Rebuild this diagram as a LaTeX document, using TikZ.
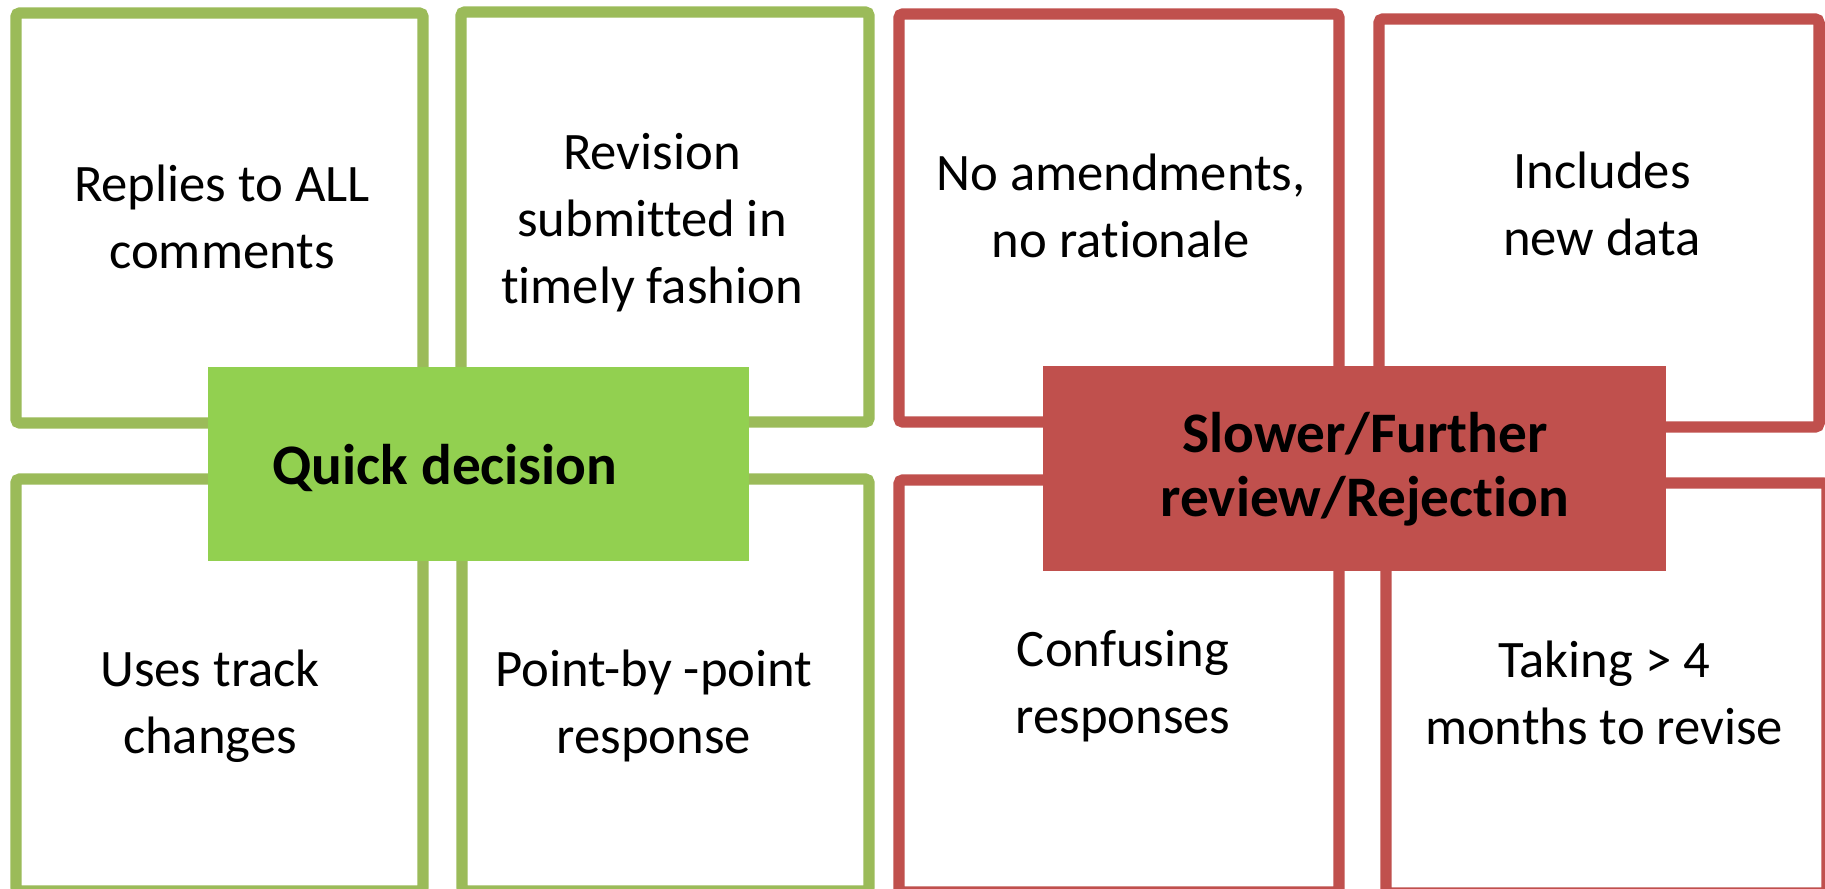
\documentclass[tikz,border=0pt]{standalone}
\usepackage{fontspec}
\setmainfont[Ligatures=NoCommon]{Carlito}
\usepackage{tikz}

\begin{document}
\begin{tikzpicture}[x=0.75pt,y=0.75pt,yscale=-1,xscale=1,
	goodbox/.style={draw={rgb, 255:red, 155; green, 187; blue, 89}, line width=8.6, fill=white, rounded corners=3},
	badbox/.style={draw={rgb, 255:red, 192; green, 80; blue, 77}, line width=8.6, fill=white, rounded corners=3},
	goodlabel/.style={fill={rgb, 255:red, 146; green, 208; blue, 80}},
	badlabel/.style={fill={rgb, 255:red, 192; green, 80; blue, 77}},
	boxtext/.style={anchor=base, align=center, inner sep=0pt, font=\fontsize{39.5}{50}\selectfont},
	labeltext/.style={boxtext, font=\fontsize{43}{48}\selectfont\bfseries}]
			\useasboundingbox (0,0) rectangle (1825,889);
			
			%Shape: Rectangle [green, top row]
			\draw [goodbox] (16,13) rectangle (423,423) ;
			\draw [goodbox] (461,12) rectangle (869,422) ;
			%Shape: Rectangle [red, top row]
			\draw [badbox] (899,14) rectangle (1339,422) ;
			\draw [badbox] (1379,19) rectangle (1819,427) ;
			%Shape: Rectangle [green, bottom row]
			\draw [goodbox] (16,479) rectangle (423,891) ;
			\draw [goodbox] (462,479) rectangle (869,891) ;
			%Shape: Rectangle [red, bottom row]
			\draw [badbox] (899,480) rectangle (1339,892) ;
			\draw [badbox] (1386,483) rectangle (1827,893) ;
			
			%Shape: Rectangle [labels]
			\fill [goodlabel] (208,367) rectangle (749,561) ;
			\fill [badlabel] (1043,366) rectangle (1666,571) ;
			
			% Text Node (base = last line)
			\node [boxtext] (replies) at (222,268) {Replies to ALL\\comments};
			% Text Node
			\node [boxtext] (timely) at (652,303) {Revision\\submitted in\\timely fashion};
			% Text Node
			\node [boxtext] (noamend) at (1121,257) {No amendments,\\no rationale};
			% Text Node
			\node [boxtext] (newdata) at (1602,255) {Includes\\new data};
			% Text Node
			\node [boxtext] (track) at (210,753) {Uses track\\changes};
			% Text Node
			\node [boxtext] (pointwise) at (654,753) {Point-by -point\\response};
			% Text Node
			\node [boxtext] (confusing) at (1123,733) {Confusing\\responses};
			% Text Node
			\node [boxtext] (months) at (1604,744) {Taking > 4\\months to revise};
			
			% Text Node
			\node [labeltext] (quick) at (445,484) {Quick decision};
			% Text Node
			\node [labeltext] (slower) at (1365,516) {Slower/Further\\review/Rejection};
		\end{tikzpicture}
\end{document}
